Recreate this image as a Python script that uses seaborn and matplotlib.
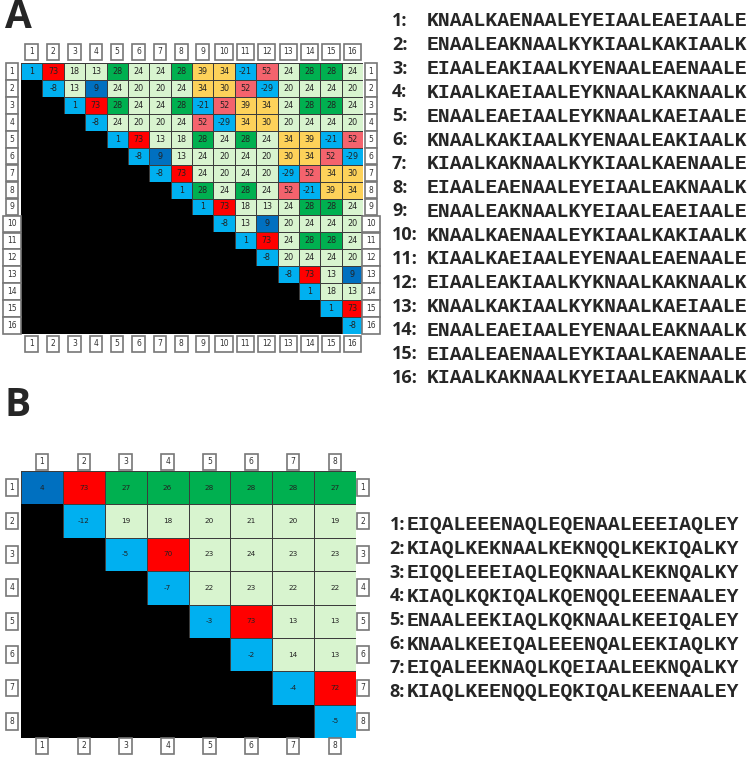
import numpy as np
import matplotlib
matplotlib.use("Agg")
import matplotlib.pyplot as plt
import seaborn as sns
from matplotlib.colors import ListedColormap

# panel A: upper triangle, row i starts at column i
a_rows = [
    [1, 73, 18, 13, 28, 24, 24, 28, 39, 34, -21, 52, 24, 28, 28, 24],
    [-8, 13, 9, 24, 20, 20, 24, 34, 30, 52, -29, 20, 24, 24, 20],
    [1, 73, 28, 24, 24, 28, -21, 52, 39, 34, 24, 28, 28, 24],
    [-8, 24, 20, 20, 24, 52, -29, 34, 30, 20, 24, 24, 20],
    [1, 73, 13, 18, 28, 24, 28, 24, 34, 39, -21, 52],
    [-8, 9, 13, 24, 20, 24, 20, 30, 34, 52, -29],
    [-8, 73, 24, 20, 24, 20, -29, 52, 34, 30],
    [1, 28, 24, 28, 24, 52, -21, 39, 34],
    [1, 73, 18, 13, 24, 28, 28, 24],
    [-8, 13, 9, 20, 24, 24, 20],
    [1, 73, 24, 28, 28, 24],
    [-8, 20, 24, 24, 20],
    [-8, 73, 13, 9],
    [1, 18, 13],
    [1, 73],
    [-8],
]

# panel B
b_rows = [
    [4, 73, 27, 26, 28, 28, 28, 27],
    [-12, 19, 18, 20, 21, 20, 19],
    [-5, 70, 23, 24, 23, 23],
    [-7, 22, 23, 22, 22],
    [-3, 73, 13, 13],
    [-2, 14, 13],
    [-4, 72],
    [-5],
]

seqs_a = [
    "KNAALKAENAALEYEIAALEAEIAALE",
    "ENAALEAKNAALKYKIAALKAKIAALK",
    "EIAALEAKIAALKYENAALEAENAALE",
    "KIAALKAEIAALEYKNAALKAKNAALK",
    "ENAALEAEIAALEYKNAALKAEIAALE",
    "KNAALKAKIAALKYENAALEAKIAALK",
    "KIAALKAKNAALKYKIAALKAENAALE",
    "EIAALEAENAALEYEIAALEAKNAALK",
    "ENAALEAKNAALKYEIAALEAEIAALE",
    "KNAALKAENAALEYKIAALKAKIAALK",
    "KIAALKAEIAALEYENAALEAENAALE",
    "EIAALEAKIAALKYKNAALKAKNAALK",
    "KNAALKAKIAALKYKNAALKAEIAALE",
    "ENAALEAEIAALEYENAALEAKNAALK",
    "EIAALEAENAALEYKIAALKAENAALE",
    "KIAALKAKNAALKYEIAALEAKNAALK",
]

seqs_b = [
    "EIQALEEENAQLEQENAALEEEIAQLEY",
    "KIAQLKEKNAALKEKNQQLKEKIQALKY",
    "EIQQLEEEIAQLEQKNAALKEKNQALKY",
    "KIAQLKQKIQALKQENQQLEEENAALEY",
    "ENAALEEKIAQLKQKNAALKEEIQALEY",
    "KNAALKEEIQALEEENQALEEKIAQLKY",
    "EIQALEEKNAQLKQEIAALEEKNQALKY",
    "KIAQLKEENQQLEQKIQALKEENAALEY",
]

colors = ["#00b0f0", "#0070c0", "#ff0000", "#f4636d",
          "#fdd25a", "#00b050", "#d8f4cf"]
cmap = ListedColormap(colors)

W, H = 750, 757


def full_matrix(rows):
    n = len(rows)
    m = np.full((n, n), np.nan)
    for i, r in enumerate(rows):
        m[i, i:] = r
    return m


def categories(v):
    # colour class by value
    c = np.select(
        [v <= 2, v <= 10, v >= 70, v >= 50, v >= 30, v >= 26],
        [0, 1, 2, 3, 4, 5], default=6).astype(float)
    c[np.isnan(v)] = np.nan
    return c


def px_axes(fig, left, top, width, height):
    return fig.add_axes([left / W, 1 - (top + height) / H, width / W, height / H])


def number_boxes(ax, n, off):
    # off = (top, bottom, left, right) distance in px
    kw = dict(fontsize=5.5, ha="center", va="center", textcoords="offset points",
              annotation_clip=False, color="#333333",
              bbox=dict(boxstyle="square,pad=0.5", fc="white", ec="#777777", lw=1.2))
    t, b, l, r = [o * 0.72 for o in off]
    for j in range(n):
        lab = str(j + 1)
        ax.annotate(lab, xy=(j + 0.5, 1), xycoords=("data", "axes fraction"), xytext=(0, t), **kw)
        ax.annotate(lab, xy=(j + 0.5, 0), xycoords=("data", "axes fraction"), xytext=(0, -b), **kw)
        ax.annotate(lab, xy=(0, j + 0.5), xycoords=("axes fraction", "data"), xytext=(-l, 0), **kw)
        ax.annotate(lab, xy=(1, j + 0.5), xycoords=("axes fraction", "data"), xytext=(r, 0), **kw)


def draw_matrix(ax, rows, fs):
    vals = full_matrix(rows)
    sns.heatmap(categories(vals), mask=np.isnan(vals), cmap=cmap, vmin=-0.5, vmax=6.5,
                annot=vals, fmt=".0f", cbar=False, linewidths=0.6, linecolor="#3c3c3c",
                annot_kws=dict(size=fs, color="#222222"),
                xticklabels=False, yticklabels=False, ax=ax)
    # no grid lines inside the black lower triangle
    mesh = ax.collections[0]
    edges = np.where(np.isnan(vals).ravel()[:, None], [0, 0, 0, 1], [0.235, 0.235, 0.235, 1])
    mesh.set_edgecolor(edges)
    ax.set_facecolor("black")
    for s in ax.spines.values():
        s.set_visible(False)


sns.set_style("white")
fig = plt.figure(figsize=(W / 100, H / 100), dpi=100)
fig.patch.set_facecolor("white")

ax_a = px_axes(fig, 21, 63, 342, 271)
draw_matrix(ax_a, a_rows, 5.8)
number_boxes(ax_a, len(a_rows), (11, 10, 9, 8))

ax_b = px_axes(fig, 21, 471, 335, 267)
draw_matrix(ax_b, b_rows, 5.2)
number_boxes(ax_b, len(b_rows), (9, 8, 9, 7))

fig.text(5 / W, 1 - 18 / H, "A", fontsize=28, fontweight="bold", family="Open Sans",
         ha="left", va="center")
fig.text(5 / W, 1 - 406 / H, "B", fontsize=28, fontweight="bold", family="Open Sans",
         ha="left", va="center")

for k, s in enumerate(seqs_a):
    y = 1 - (21 + k * 23.8) / H
    fig.text(392 / W, y, f"{k + 1}:", fontsize=13, fontweight="bold", family="Open Sans",
             ha="left", va="center")
    fig.text(427 / W, y, s, fontsize=14.2, fontweight="bold", family="Liberation Mono",
             ha="left", va="center")

for k, s in enumerate(seqs_b):
    y = 1 - (525 + k * 23.8) / H
    fig.text(405 / W, y, f"{k + 1}:", fontsize=13, fontweight="bold", family="Open Sans",
             ha="right", va="center")
    fig.text(407 / W, y, s, fontsize=14.2, fontweight="bold", family="Liberation Mono",
             ha="left", va="center")

fig.savefig("out.png", dpi=100, facecolor="white")
